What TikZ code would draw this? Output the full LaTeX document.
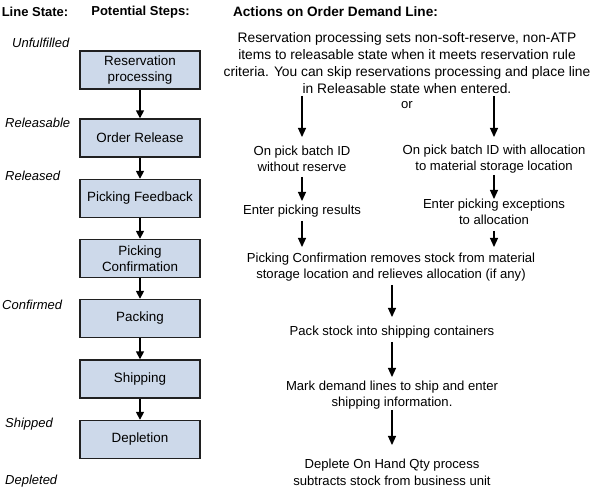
\documentclass[tikz,border=0pt]{standalone}
\usepackage{fontspec}
\setmainfont{Liberation Sans}
\usetikzlibrary{arrows.meta}
\definecolor{boxfill}{HTML}{CDD9EA}
\definecolor{boxline}{HTML}{202020}
\begin{document}
\begin{tikzpicture}[x=1pt,y=-1pt,
  hdr/.style={font=\fontsize{13}{15}\selectfont\bfseries, inner sep=0pt},
  state/.style={font=\fontsize{13}{15}\selectfont\itshape, anchor=west, inner sep=0pt},
  stepbox/.style={draw=boxline, line width=1.4pt, fill=boxfill, minimum width=120pt, minimum height=38pt, inner sep=0pt, align=center, font=\fontsize{13.4}{16}\selectfont},
  act/.style={align=center, inner sep=0pt, font=\fontsize{13.1}{16.5}\selectfont},
  larr/.style={line width=1.6pt, -{Triangle[width=8pt,length=8pt]}},
  rarr/.style={line width=1.2pt, -{Triangle[width=8pt,length=9pt]}}]
\useasboundingbox (0,0) rectangle (590,489);
% headers
\node[hdr] (h1) at (35,12) {Line State:};
\node[hdr] (h2) at (140.5,12) {Potential Steps:};
\node[hdr, font=\fontsize{13.6}{15}\selectfont\bfseries] (h3) at (335.5,12) {Actions on Order Demand Line:};
% states
\node[state] (s1) at (12,43) {Unfulfilled};
\node[state] (s2) at (5,123) {Releasable};
\node[state] (s3) at (5,176) {Released};
\node[state] (s4) at (2,305) {Confirmed};
\node[state] (s5) at (5,424) {Shipped};
\node[state] (s6) at (5,481) {Depleted};
% steps
\node[stepbox] (b1) at (140,70) {Reservation\\processing};
\node[stepbox] (b2) at (140,138) {Order Release};
\node[stepbox] (b3) at (140,198.5) {Picking Feedback};
\node[stepbox] (b4) at (140,258.5) {Picking\\Confirmation};
\node[stepbox] (b5) at (140,318.5) {Packing};
\node[stepbox] (b6) at (140,379) {Shipping};
\node[stepbox] (b7) at (140,439.5) {Depletion};
\draw[larr] (b1) -- (b2);
\draw[larr] (b2) -- (b3);
\draw[larr] (b3) -- (b4);
\draw[larr] (b4) -- (b5);
\draw[larr] (b5) -- (b6);
\draw[larr] (b6) -- (b7);
% actions
\node[act, font=\fontsize{13.8}{17}\selectfont] (a1) at (407,63) {Reservation processing sets non-soft-reserve, non-ATP\\items to releasable state when it meets reservation rule\\criteria. You can skip reservations processing and place line\\in Releasable state when entered.};
\node[act] (or) at (407,105) {or};
\coordinate (l0) at (302,96);
\coordinate (r0) at (494,96);
\node[act] (l1) at (302,159) {On pick batch ID\\without reserve};
\node[act] (r1) at (494,159) {On pick batch ID with allocation\\to material storage location};
\node[act] (l2) at (302,211) {Enter picking results};
\node[act] (r2) at (494,212) {Enter picking exceptions\\to allocation};
\node[act] (c1) at (391,267) {Picking Confirmation removes stock from material\\storage location and relieves allocation (if any)};
\node[act] (c2) at (392,332) {Pack stock into shipping containers};
\node[act] (c3) at (392,395) {Mark demand lines to ship and enter\\shipping information.};
\node[act] (c4) at (392,472.5) {Deplete On Hand Qty process\\subtracts stock from business unit};
\draw[rarr] (l0) -- (302,137);
\draw[rarr] (r0) -- (494,137);
\draw[rarr] (302,177) -- (302,201);
\draw[rarr] (494,175) -- (494,199);
\draw[rarr] (302,221) -- (302,247);
\draw[rarr] (494,231) -- (494,247);
\draw[rarr] (392,285) -- (392,317);
\draw[rarr] (392,342) -- (392,377);
\draw[rarr] (392,410) -- (392,445);
\end{tikzpicture}
\end{document}
